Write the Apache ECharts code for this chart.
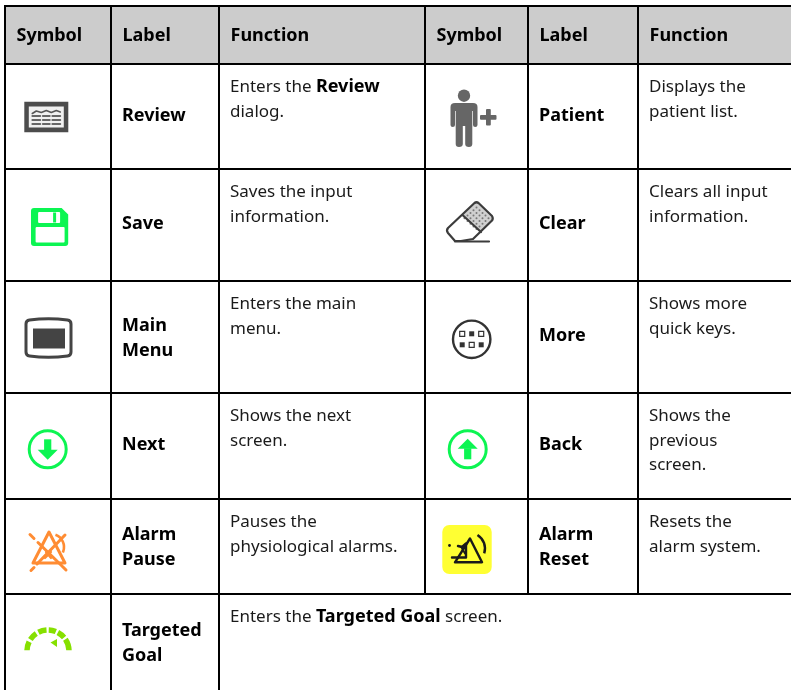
<!DOCTYPE html>
<html><head><meta charset="utf-8">
<style>html,body{margin:0;padding:0;background:#fff}#c{width:791px;height:690px}</style>
<script src="https://cdn.jsdelivr.net/npm/echarts@6/dist/echarts.min.js"></script>
</head><body><div id="c"></div>
<script>
// ---- table content ----
const headers = ['Symbol', 'Label', 'Function', 'Symbol', 'Label', 'Function'];
const leftSymbols = ['review', 'save', 'mainMenu', 'next', 'alarmPause', 'targetedGoal'];
const leftLabels = ['Review', 'Save', 'Main\nMenu', 'Next', 'Alarm\nPause', 'Targeted\nGoal'];
const leftFunctions = ['Enters the **Review**\ndialog.', 'Saves the input\ninformation.', 'Enters the main\nmenu.', 'Shows the next\nscreen.', 'Pauses the\nphysiological alarms.', 'Enters the **Targeted Goal** screen.'];
const rightSymbols = ['patient', 'clear', 'more', 'back', 'alarmReset'];
const rightLabels = ['Patient', 'Clear', 'More', 'Back', 'Alarm\nReset'];
const rightFunctions = ['Displays the\npatient list.', 'Clears all input\ninformation.', 'Shows more\nquick keys.', 'Shows the\nprevious\nscreen.', 'Resets the\nalarm system.'];

// ---- table geometry (kept apart from the content) ----
const colEdges = [5, 111, 219, 425, 528, 638, 791];
const rowEdges = [6, 64, 169, 281, 393, 499, 594, 690];
const iconCentres = {
  review: [46.3, 117], save: [49.6, 227], mainMenu: [48.5, 338], next: [47.7, 449.3],
  alarmPause: [48, 552], targetedGoal: [48, 640], patient: [464, 117], clear: [470, 222],
  more: [471.7, 339.3], back: [467.7, 449.3], alarmReset: [467, 549.5]
};
const TEXT_FONT = '"Noto Sans", "Open Sans", sans-serif';
const HEAD_SIZE = 18, BODY_SIZE = 17, BOLD_SIZE = 18, LINE_H = 24.8;

const GREEN = '#0cf552', DARK = '#444444', ORANGE = '#ff8c33', LIME = '#86e000';

function line(pts, stroke, w) {
  return { type: 'polyline', shape: { points: pts }, style: { stroke, lineWidth: w, fill: null, lineCap: 'round', lineJoin: 'round' } };
}
function rect(x, y, w, h, fill, r) {
  return { type: 'rect', shape: { x, y, width: w, height: h, r: r || 0 }, style: { fill } };
}
function arc(cx, cy, r, a0, a1, stroke, w, cap) {
  const d = Math.PI / 180;
  return { type: 'arc', shape: { cx, cy, r, startAngle: a0 * d, endAngle: a1 * d, clockwise: true },
    style: { stroke, lineWidth: w, fill: null, lineCap: cap || 'butt' } };
}
function poly(pts, fill) {
  return { type: 'polygon', shape: { points: pts }, style: { fill } };
}
function circledArrow(dir) {
  const s = dir; // +1 = down, -1 = up
  return [
    { type: 'circle', shape: { cx: 0, cy: 0, r: 18.5 }, style: { fill: '#fff', stroke: GREEN, lineWidth: 3 } },
    rect(-3.6, s > 0 ? -10 : -1, 7.2, 11, GREEN),
    poly([[-10, s * 1], [10, s * 1], [0, s * 11]].map(p => [p[0], p[1] - s * 0.5]), GREEN)
  ];
}
const iconBuilders = {
  review: () => {
    const c = [rect(-22, -15.3, 44, 30.6, '#4c4c4c'), rect(-17.5, -10.5, 35, 21, '#f0f0f0')];
    c.push(line([[-14, -3.5], [-10, -6], [-5, -4.5], [0, -6.5], [5, -4.5], [10, -6.5], [14, -5]], '#555', 1.6));
    [-1, 3, 7].forEach(y => { [[-14, -6], [-3.5, 3.5], [6, 14]].forEach(a => c.push(line([[a[0], y], [a[1], y]], '#666', 1.8))); });
    return c;
  },
  save: () => [
    { type: 'path', shape: { pathData: 'M-18.6,-16 Q-18.6,-19 -15.6,-19 L12,-19 L18.6,-12.5 L18.6,16 Q18.6,19 15.6,19 L-15.6,19 Q-18.6,19 -18.6,16 Z' }, style: { fill: GREEN } },
    rect(-11.5, -15, 22, 11, '#fff', 1), rect(3.5, -14.5, 3, 10, GREEN),
    rect(-14, 0, 29, 15.5, '#fff', 1)
  ],
  mainMenu: () => [
    { type: 'path', shape: { pathData: 'M-22.5,-14 Q-22.5,-17.5 -19,-18 Q0,-20.5 19,-18 Q22.5,-17.5 22.5,-14 L22.5,14 Q22.5,17.5 19,18 Q0,20.5 -19,18 Q-22.5,17.5 -22.5,14 Z' }, style: { fill: '#fff', stroke: DARK, lineWidth: 3 } },
    rect(-15.5, -9.5, 32, 20, DARK)
  ],
  next: () => circledArrow(1),
  back: () => circledArrow(-1),
  alarmPause: () => {
    const w = 3;
    return [
      line([[-15, 11], [1, -20], [17, 11], [-15, 11]], ORANGE, w),
      line([[-18, -17.5], [-14, -13.5]], ORANGE, w), line([[-10, -9.5], [14, 14]], ORANGE, w),
      line([[17, -17], [-11, 12]], ORANGE, w), line([[-14, 15.5], [-17, 18.5]], ORANGE, w),
      line([[15, 15], [18, 18]], ORANGE, w),
      line([[-3, 6], [3, 0]], ORANGE, 2.2), line([[3, 6], [-2, 0]], ORANGE, 2.2),
      arc(3, -5, 13, -70, 25, ORANGE, 2.6)
    ];
  },
  targetedGoal: () => {
    const c = [];
    [[-178, -154], [-147, -124], [-117, -94], [-88, -68], [-62, -40], [-34, -2]].forEach(a => {
      c.push(arc(0, 11, 21, a[0], a[1], LIME, 5.5));
    });
    c.push(poly([[2.5, 2.5], [9, -1], [9, 7]], LIME));
    return c;
  },
  patient: () => [
    { type: 'circle', shape: { cx: 0, cy: -21.3, r: 6.2 }, style: { fill: '#666' } },
    { type: 'path', shape: { pathData: 'M-13.5,-10 Q-13.5,-14 -9,-14 L9,-14 Q13.5,-14 13.5,-10 L13.5,8 Q13.5,10 11.2,10 Q9,10 9,8 L9,-6 L8.3,-6 L8.3,27 Q8.3,30 5,30 Q1.2,30 1.2,27 L1.2,9 L-1.2,9 L-1.2,27 Q-1.2,30 -5,30 Q-8.3,30 -8.3,27 L-8.3,-6 L-9,-6 L-9,8 Q-9,10 -11.2,10 Q-13.5,10 -13.5,8 Z' }, style: { fill: '#666' } },
    rect(16, -2, 16.5, 4.8, '#666', 1), rect(22, -8, 4.8, 16.5, '#666', 1)
  ],
  clear: () => {
    const c = [poly([[6.5, -20], [23, -3.5], [10, 9], [-7, -7]], '#d0d0d0')];
    for (let i = 0; i < 5; i++) for (let j = 0; j < 5; j++) {
      c.push({ type: 'circle', shape: { cx: 6.5 + (i - j) * 3.0, cy: -14.5 + (i + j) * 2.7, r: 1 }, style: { fill: '#777' } });
    }
    c.push({ type: 'path', shape: { pathData: 'M4.5,-19 Q6.5,-20.5 8.5,-19 L22,-6 Q23.5,-3.5 22,-1.5 L3,17 L-9,19 L-15,19 L-22,11 Q-24,8.5 -22,6 Z' }, style: { fill: null, stroke: '#3c3c3c', lineWidth: 2.2, lineJoin: 'round' } });
    c.push(line([[-7, -6.5], [11, 10]], '#3c3c3c', 2.2));
    c.push(line([[-15, 19.5], [19, 19.5]], '#3c3c3c', 2.2));
    return c;
  },
  more: () => {
    const c = [{ type: 'circle', shape: { cx: 0, cy: 0, r: 18.7 }, style: { fill: '#fff', stroke: '#333', lineWidth: 2.4 } }];
    [-9.5, 0, 9.5].forEach((x, i) => {
      [-5.5, 5.5].forEach((y, j) => {
        const filled = (i + j) % 2 === 1;
        c.push({ type: 'rect', shape: { x: x - 2.5, y: y - 2.5, width: 5, height: 5 },
          style: filled ? { fill: '#333' } : { fill: '#fff', stroke: '#333', lineWidth: 1.2 } });
      });
    });
    return c;
  },
  alarmReset: () => {
    const k = '#1a1a1a';
    return [
      rect(-24.7, -24.5, 49.4, 49, '#ffff33', 7),
      line([[-12, 12.8], [3, -11], [15, 12.8], [-12, 12.8]], k, 2.4),
      arc(2, -1, 16, -58, 18, k, 2.4),
      line([[-15, 8], [-1, 8], [-1, -6], [-5, -2.5], [-9, -3.5]], k, 2.4),
      line([[-6, -3], [-2, 4]], k, 1.8),
      { type: 'circle', shape: { cx: -17.5, cy: -4, r: 1.4 }, style: { fill: k } }
    ];
  }
};

function boldRich() {
  return {
    n: { fontFamily: TEXT_FONT, fontSize: BODY_SIZE, fill: '#1a1a1a', lineHeight: LINE_H },
    b: { fontFamily: TEXT_FONT, fontSize: BOLD_SIZE, fontWeight: 700, fill: '#000', lineHeight: LINE_H }
  };
}
function toRich(s) {
  return s.split('\n').map(l => l.split('**').map((p, i) => p === '' ? '' : '{' + (i % 2 ? 'b' : 'n') + '|' + p + '}').join('')).join('\n');
}

// ---- items ----
const items = [];
items.push({ kind: 'head' });
for (let r = 1; r < rowEdges.length - 1; r++) items.push({ kind: 'h', y: rowEdges[r] });
items.push({ kind: 'h', y: rowEdges[0] });
colEdges.slice(0, 6).forEach((x, i) => items.push({ kind: 'v', x, y1: rowEdges[0], y2: i < 3 ? rowEdges[7] : rowEdges[6] }));
headers.forEach((t, i) => items.push({ kind: 'header', text: t, col: i }));
function addRows(symbols, labels, funcs, base) {
  symbols.forEach((s, r) => {
    items.push({ kind: 'icon', name: s });
    items.push({ kind: 'label', text: labels[r], col: base + 1, row: r + 1 });
    items.push({ kind: 'func', text: funcs[r], col: base + 2, row: r + 1 });
  });
}
addRows(leftSymbols, leftLabels, leftFunctions, 0);
addRows(rightSymbols, rightLabels, rightFunctions, 3);

function renderItem(params, api) {
  const it = items[params.dataIndex];
  const P = (x, y) => api.coord([x, y]);
  if (it.kind === 'head') {
    const a = P(colEdges[0], rowEdges[0]), b = P(colEdges[6], rowEdges[1]);
    return { type: 'rect', shape: { x: a[0], y: a[1], width: b[0] - a[0], height: b[1] - a[1] }, style: { fill: '#cccccc' } };
  }
  if (it.kind === 'h') {
    const a = P(colEdges[0] - 1, it.y), b = P(colEdges[6], it.y);
    return { type: 'line', shape: { x1: a[0], y1: a[1], x2: b[0], y2: b[1] }, style: { stroke: '#000', lineWidth: 2 } };
  }
  if (it.kind === 'v') {
    const a = P(it.x, it.y1), b = P(it.x, it.y2);
    return { type: 'line', shape: { x1: a[0], y1: a[1], x2: b[0], y2: b[1] }, style: { stroke: '#000', lineWidth: 2 } };
  }
  if (it.kind === 'header') {
    const p = P(colEdges[it.col] + 11.5, 35.5);
    return { type: 'text', style: { x: p[0], y: p[1], text: it.text, fontFamily: TEXT_FONT, fontSize: HEAD_SIZE, fontWeight: 700, fill: '#000', verticalAlign: 'middle', align: 'left' } };
  }
  if (it.kind === 'label') {
    const multi = it.text.indexOf('\n') >= 0;
    const cy = (rowEdges[it.row] + rowEdges[it.row + 1]) / 2 + (multi ? 1 : -1);
    const p = P(colEdges[it.col] + 11, cy);
    return { type: 'text', style: { x: p[0], y: p[1], text: it.text, fontFamily: TEXT_FONT, fontSize: BOLD_SIZE, fontWeight: 700, lineHeight: 25, fill: '#000', verticalAlign: 'middle', align: 'left' } };
  }
  if (it.kind === 'func') {
    const p = P(colEdges[it.col] + 11, rowEdges[it.row] + 10.5);
    return { type: 'text', style: { x: p[0], y: p[1], text: toRich(it.text), rich: boldRich(), verticalAlign: 'top', align: 'left' } };
  }
  if (it.kind === 'icon') {
    const c = iconCentres[it.name], p = P(c[0], c[1]);
    return { type: 'group', x: p[0], y: p[1], children: iconBuilders[it.name]() };
  }
}

const chart = echarts.init(document.getElementById('c'), null, { renderer: 'canvas' });
chart.setOption({
  animation: false,
  backgroundColor: '#fff',
  grid: { left: 0, right: 0, top: 0, bottom: 0 },
  xAxis: { type: 'value', min: 0, max: 791, show: false },
  yAxis: { type: 'value', min: 0, max: 690, inverse: true, show: false },
  series: [{ type: 'custom', coordinateSystem: 'cartesian2d', clip: false, silent: true,
    renderItem, data: items.map((_, i) => [i, 0]) }]
});
</script></body></html>
